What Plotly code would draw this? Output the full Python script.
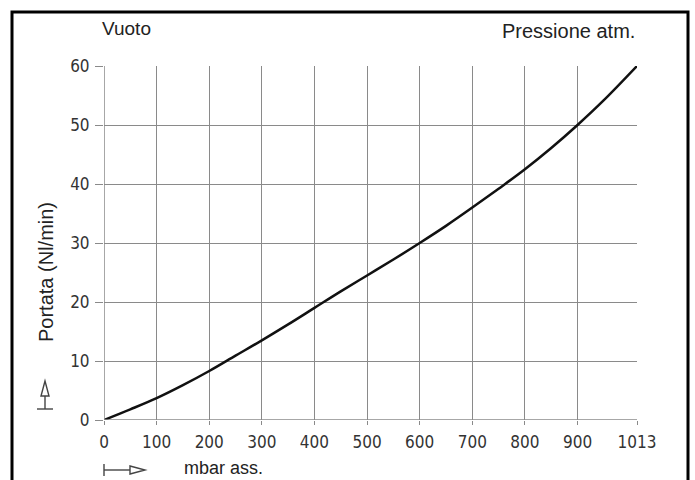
import plotly.graph_objects as go

# Data
pressure_mbar = [0, 50, 100, 150, 200, 250, 300, 350, 400, 450, 500, 550, 600, 650, 700, 750, 800, 850, 900, 950, 1013]
flow_nl_min = [0, 1.8, 3.7, 5.9, 8.3, 10.9, 13.5, 16.2, 19.0, 21.8, 24.5, 27.2, 30.0, 32.9, 36.0, 39.2, 42.5, 46.1, 50.0, 54.2, 60.0]
x_tickvals = [0, 100, 200, 300, 400, 500, 600, 700, 800, 900, 1013]
x_ticktext = ["0", "100", "200", "300", "400", "500", "600", "700", "800", "900", "1013"]
y_tickvals = [0, 10, 20, 30, 40, 50, 60]

W, H = 695, 480
L, R, T, B = 104, 637, 66, 420


def px(x):
    return (x - L) / (R - L)


def py(y):
    return (B - y) / (B - T)


fig = go.Figure()
fig.add_trace(go.Scatter(x=pressure_mbar, y=flow_nl_min, mode="lines",
                         line=dict(color="#111111", width=2.5, shape="spline"),
                         showlegend=False, hoverinfo="skip"))

grid = "#8a8a8a"
tickfont = dict(family="Liberation Sans Narrow, DejaVu Sans Condensed", size=17, color="#333333")
fig.update_xaxes(range=[0, 1013], tickvals=x_tickvals, ticktext=x_ticktext,
                 showgrid=True, gridcolor=grid, gridwidth=1.3,
                 zeroline=False, showline=False,
                 ticks="outside", ticklen=4, tickcolor=grid, tickfont=tickfont,
                 ticklabelstandoff=3)
fig.update_yaxes(range=[0, 60], tickvals=y_tickvals,
                 showgrid=True, gridcolor=grid, gridwidth=1.3,
                 zeroline=False, showline=False,
                 ticks="outside", ticklen=8, tickcolor=grid, tickfont=tickfont,
                 ticklabelstandoff=2)

shapes = []
# outer frame
shapes.append(dict(type="rect", xref="paper", yref="paper",
                   x0=px(12), x1=px(688), y0=py(495), y1=py(12),
                   line=dict(color="black", width=3)))
# plot edges
shapes.append(dict(type="line", xref="x", yref="y", x0=0, x1=0, y0=0, y1=60,
                   line=dict(color=grid, width=1.5)))
shapes.append(dict(type="line", xref="x", yref="y", x0=0, x1=1013, y0=0, y1=0,
                   line=dict(color=grid, width=1.5)))
# y-axis arrow
ac = "#444444"
shapes.append(dict(type="line", xref="paper", yref="paper",
                   x0=px(37), x1=px(53), y0=py(409), y1=py(409), line=dict(color=ac, width=1.4)))
shapes.append(dict(type="line", xref="paper", yref="paper",
                   x0=px(45), x1=px(45), y0=py(409), y1=py(396), line=dict(color=ac, width=1.4)))
shapes.append(dict(type="path", xref="paper", yref="paper",
                   path=f"M {px(41)},{py(396)} L {px(49)},{py(396)} L {px(45)},{py(381)} Z",
                   line=dict(color=ac, width=1.4)))
# x-axis arrow
shapes.append(dict(type="line", xref="paper", yref="paper",
                   x0=px(104), x1=px(104), y0=py(464), y1=py(476), line=dict(color=ac, width=1.4)))
shapes.append(dict(type="line", xref="paper", yref="paper",
                   x0=px(104), x1=px(130), y0=py(470), y1=py(470), line=dict(color=ac, width=1.4)))
shapes.append(dict(type="path", xref="paper", yref="paper",
                   path=f"M {px(130)},{py(466)} L {px(130)},{py(474)} L {px(145)},{py(470)} Z",
                   line=dict(color=ac, width=1.4)))

labfont = dict(family="Liberation Sans", size=19, color="#222222")
annotations = [
    dict(text="Vuoto", xref="paper", yref="paper", x=px(100), y=py(29),
         xanchor="left", yanchor="middle", showarrow=False, font=labfont),
    dict(text="Pressione atm.", xref="paper", yref="paper", x=px(637), y=py(31),
         xanchor="right", yanchor="middle", showarrow=False,
         font=dict(family="Liberation Sans", size=20, color="#222222")),
    dict(text="mbar ass.", xref="paper", yref="paper", x=px(182), y=py(468),
         xanchor="left", yanchor="middle", showarrow=False,
         font=dict(family="Liberation Sans", size=18, color="#222222")),
    dict(text="Portata (Nl/min)", xref="paper", yref="paper", x=px(46), y=py(272),
         xanchor="center", yanchor="middle", textangle=-90, showarrow=False,
         font=dict(family="Liberation Sans", size=20, color="#222222")),
]

fig.update_layout(width=W, height=H, margin=dict(l=L, r=W - R, t=T, b=H - B),
                  paper_bgcolor="white", plot_bgcolor="white",
                  shapes=shapes, annotations=annotations)

fig.write_html("out.html")
